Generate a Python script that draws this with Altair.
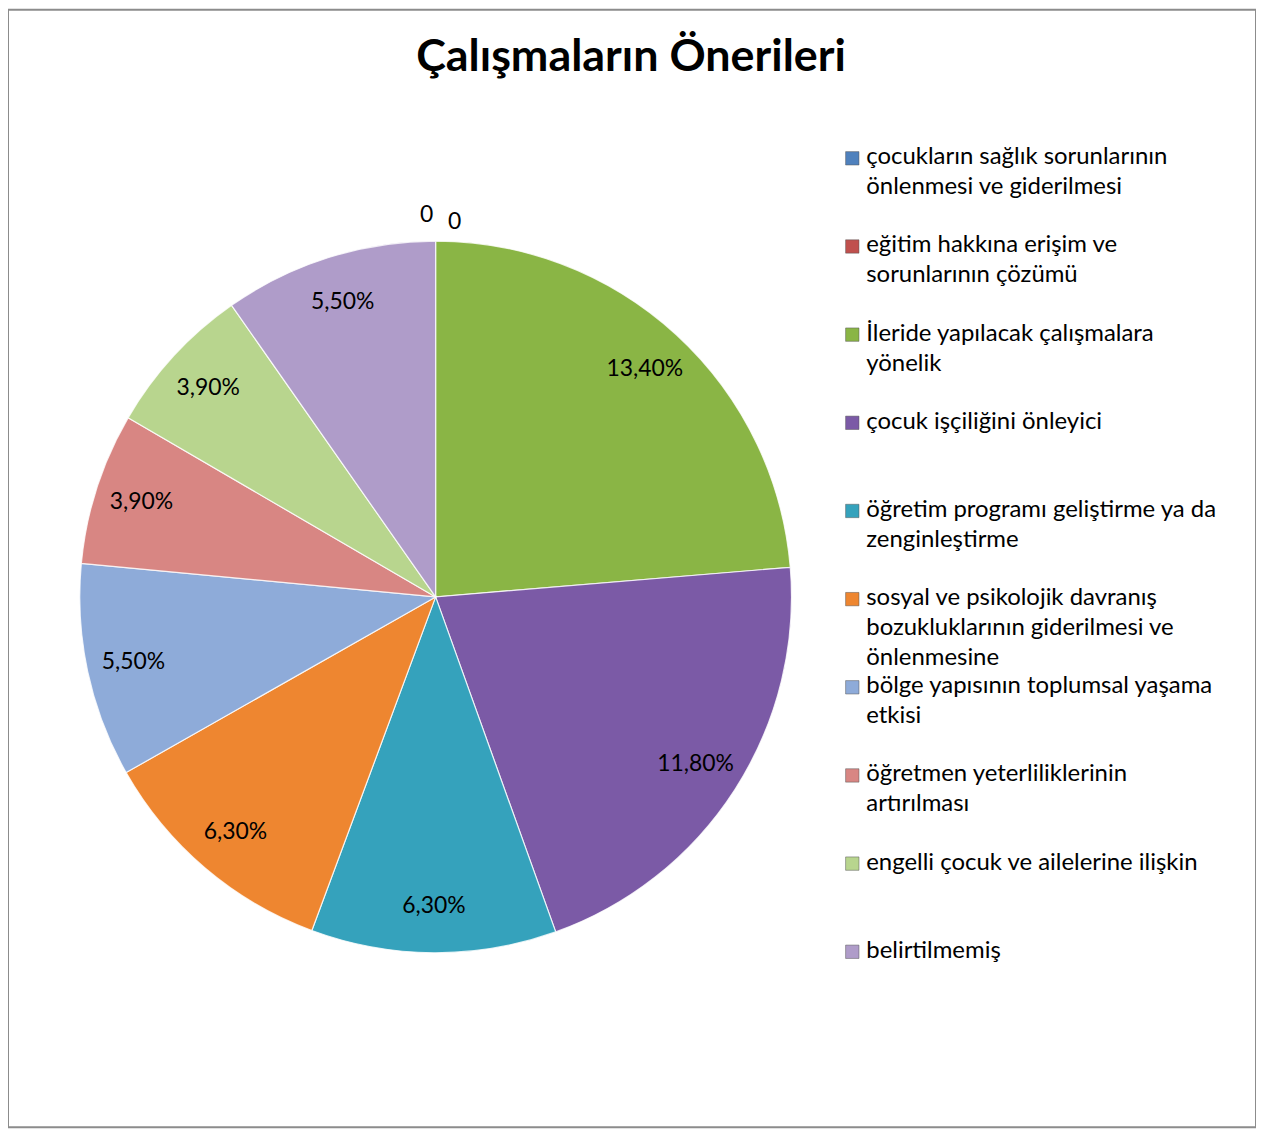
import altair as alt
import pandas as pd

TITLE = ["Çalışmaların Önerileri"]

categories = [
    "çocukların sağlık sorunlarının önlenmesi ve giderilmesi",
    "eğitim hakkına erişim ve sorunlarının çözümü",
    "İleride yapılacak çalışmalara yönelik",
    "çocuk işçiliğini önleyici",
    "öğretim programı geliştirme ya da zenginleştirme",
    "sosyal ve psikolojik davranış bozukluklarının giderilmesi ve önlenmesine",
    "bölge yapısının toplumsal yaşama etkisi",
    "öğretmen yeterliliklerinin artırılması",
    "engelli çocuk ve ailelerine ilişkin",
    "belirtilmemiş",
]
legend_labels = [
    "çocukların sağlık sorunlarının\nönlenmesi ve giderilmesi",
    "eğitim hakkına erişim ve\nsorunlarının çözümü",
    "İleride yapılacak çalışmalara\nyönelik",
    "çocuk işçiliğini önleyici",
    "öğretim programı geliştirme ya da\nzenginleştirme",
    "sosyal ve psikolojik davranış\nbozukluklarının giderilmesi ve\nönlenmesine",
    "bölge yapısının toplumsal yaşama\netkisi",
    "öğretmen yeterliliklerinin\nartırılması",
    "engelli çocuk ve ailelerine ilişkin",
    "belirtilmemiş",
]
values = [0, 0, 13.4, 11.8, 6.3, 6.3, 5.5, 3.9, 3.9, 5.5]
value_labels = ["0", "0", "13,40%", "11,80%", "6,30%", "6,30%", "5,50%", "3,90%", "3,90%", "5,50%"]
colors = ["#4F81BD", "#C0504D", "#8AB545", "#7B5AA6", "#35A2BC",
          "#EE8630", "#8EABD9", "#D88683", "#B8D58E", "#AF9CC9"]

FONT = "Lato"

df = pd.DataFrame({
    "cat": categories,
    "legend": legend_labels,
    "value": values,
    "label": value_labels,
    "idx": list(range(len(categories))),
})

CX, CY, R = 429, 589, 357

color_enc = alt.Color("cat:N", scale=alt.Scale(domain=categories, range=colors), legend=None)
theta_enc = alt.Theta("value:Q", stack=True)
order_enc = alt.Order("idx:Q")

base = alt.Chart(df)

pie = base.mark_arc(outerRadius=R, stroke="#ffffff", strokeWidth=1.2, strokeOpacity=0.8).encode(
    theta=theta_enc, color=color_enc, order=order_enc,
    x=alt.value(CX), y=alt.value(CY),
)

pie_labels = base.transform_filter("datum.value > 0").mark_text(
    radius=310, fontSize=23, font=FONT, color="#000000"
).encode(
    theta=theta_enc, order=order_enc, text="label:N",
    x=alt.value(CX), y=alt.value(CY),
)

zero1 = base.transform_filter("datum.idx == 0").mark_text(
    radius=383, dx=-9, fontSize=23, font=FONT, color="#000000"
).encode(theta=theta_enc, order=order_enc, text="label:N", x=alt.value(CX), y=alt.value(CY))

zero2 = base.transform_filter("datum.idx == 1").mark_text(
    radius=376, dx=19, fontSize=23, font=FONT, color="#000000"
).encode(theta=theta_enc, order=order_enc, text="label:N", x=alt.value(CX), y=alt.value(CY))

ypos = alt.Y("cat:N", sort=categories, axis=None,
             scale=alt.Scale(type="point", domain=categories, range=[149, 945], padding=0))

leg_sq = base.mark_square(size=180, opacity=1, stroke="#555555", strokeWidth=0.5).encode(
    x=alt.value(847), y=ypos, color=color_enc,
)
leg_txt = base.mark_text(
    align="left", baseline="top", dy=-13, lineBreak="\n", lineHeight=30,
    fontSize=24, font=FONT, color="#000000",
).encode(x=alt.value(861), y=ypos, text="legend:N")

title = alt.Chart(pd.DataFrame({"t": TITLE})).mark_text(
    fontSize=45, fontWeight="bold", font=FONT, color="#000000", baseline="middle"
).encode(x=alt.value(625), y=alt.value(47), text="t:N")

chart = alt.layer(pie, pie_labels, zero1, zero2, leg_sq, leg_txt, title).resolve_scale(
    theta="shared"
).properties(
    width=1252, height=1121, padding=0,
    autosize=alt.AutoSizeParams(type="none"),
    background="#ffffff",
).configure_view(stroke="#8c8c8c", strokeWidth=2)

chart.save("out.html", embed_options={"renderer": "svg", "actions": False})
